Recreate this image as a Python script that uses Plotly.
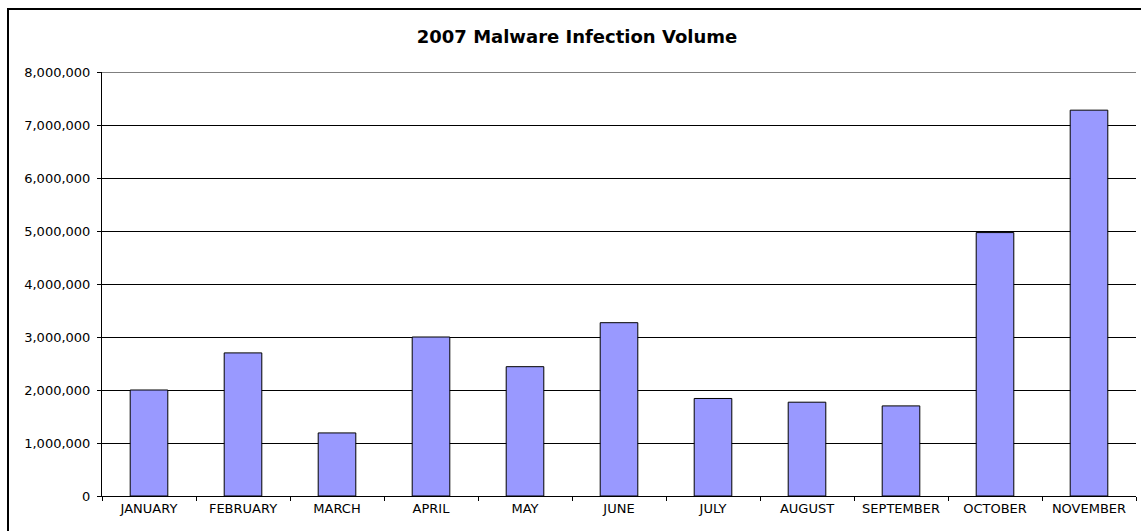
import plotly.graph_objects as go

# Monthly malware infection counts, 2007
months = ["JANUARY", "FEBRUARY", "MARCH", "APRIL", "MAY", "JUNE",
          "JULY", "AUGUST", "SEPTEMBER", "OCTOBER", "NOVEMBER"]
infections = [2000000, 2700000, 1190000, 3000000, 2440000, 3270000,
              1840000, 1770000, 1700000, 4970000, 7280000]
y_ticks = [0, 1000000, 2000000, 3000000, 4000000, 5000000, 6000000, 7000000, 8000000]

W, H = 1141, 531
ML, MR, MT, MB = 102, 5, 72, 35
plot_w = W - ML - MR
plot_h = H - MT - MB

fig = go.Figure(
    go.Bar(
        x=months,
        y=infections,
        marker=dict(color="#9999FF", line=dict(color="#000000", width=1)),
        hoverinfo="x+y",
    )
)

# chart-area frame (right and bottom edges fall outside the view)
def px_to_paper_x(px):
    return (px - ML) / plot_w

def px_to_paper_y(py):
    return (H - MB - py) / plot_h

fig.add_shape(
    type="rect", xref="paper", yref="paper",
    x0=px_to_paper_x(8), x1=px_to_paper_x(1150),
    y0=px_to_paper_y(545), y1=px_to_paper_y(9),
    line=dict(color="#000000", width=2), fillcolor="rgba(0,0,0,0)",
    layer="below",
)

# gridline at the top of the value range (sits on the plot edge)
fig.add_shape(
    type="line", xref="paper", yref="y",
    x0=0, x1=1, y0=y_ticks[-1], y1=y_ticks[-1],
    line=dict(color="#000000", width=1),
    layer="below",
)

fig.update_layout(
    width=W, height=H,
    margin=dict(l=ML, r=MR, t=MT, b=MB, pad=0),
    paper_bgcolor="#FFFFFF",
    plot_bgcolor="#FFFFFF",
    bargap=0.6,
    showlegend=False,
    font=dict(family="DejaVu Sans", size=13, color="#000000"),
    title=dict(
        text="<b>2007 Malware Infection Volume</b>",
        x=577 / W, xref="container", xanchor="center",
        y=1 - 37 / H, yref="container", yanchor="middle",
        font=dict(family="DejaVu Sans", size=18, color="#000000"),
    ),
    xaxis=dict(
        type="category",
        showline=True, linecolor="#000000", linewidth=1,
        ticks="outside", tickson="boundaries", ticklen=4,
        tickcolor="#000000", tickwidth=1,
        showgrid=False,
        tickfont=dict(family="DejaVu Sans", size=13, color="#000000"),
        fixedrange=True,
    ),
    yaxis=dict(
        range=[0, 8000000],
        tickmode="array", tickvals=y_ticks,
        tickformat=",d",
        showline=True, linecolor="#000000", linewidth=1,
        ticks="outside", ticklen=4, tickcolor="#000000", tickwidth=1,
        showgrid=True, gridcolor="#000000", gridwidth=1,
        zeroline=False,
        ticklabelstandoff=4,
        tickfont=dict(family="DejaVu Sans", size=13, color="#000000"),
        fixedrange=True,
    ),
)

fig.write_html("out.html")
